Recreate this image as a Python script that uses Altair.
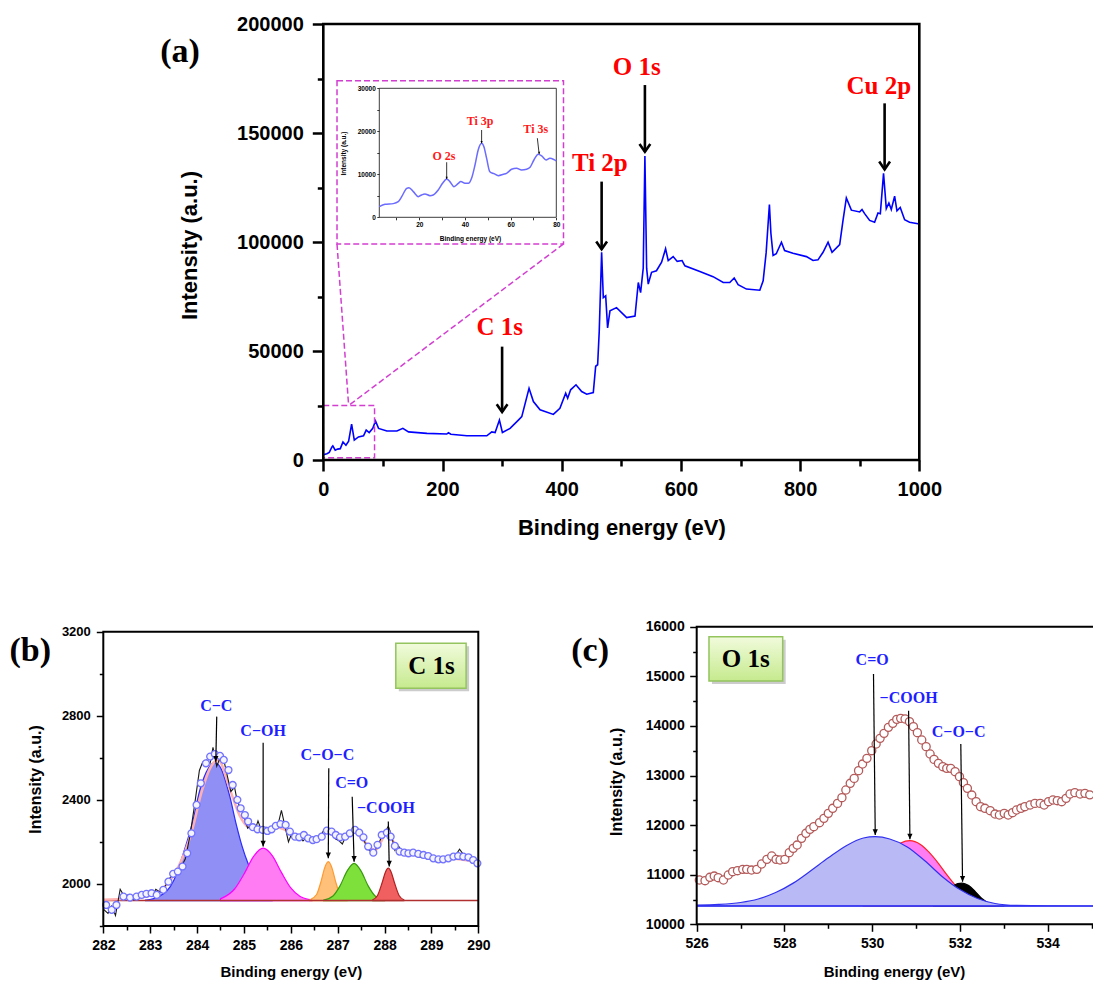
import altair as alt
import pandas as pd

W, H = 1085, 972
SANS = "Liberation Sans"
SERIF = "Liberation Serif"
MAGENTA = "#d23fd0"

# ---------------- (a) survey spectrum ----------------
survey_e = [0, 6, 10, 14.5, 16, 20, 24, 28.5, 33, 38,
            42.5, 47.5, 52, 59, 67.5, 72, 77, 83, 87.6, 92.7,
            106.7, 123.5, 133.5, 143, 173.8, 207, 210, 214, 240.8, 274.3,
            282.7, 288.3, 295.5, 300.5, 313.4, 327.3, 333, 345.2, 352.5, 363.7,
            386, 397, 406.7, 410, 415, 424, 433.5, 442, 453, 457,
            460.3, 463, 467, 469.8, 473.8, 477, 481, 492, 509, 523,
            528.5, 532.4, 536.8, 539.6, 542.5, 545.2, 550.8, 559, 567.6, 574.3,
            578.7, 587, 593.8, 602, 606.7, 631.8, 654, 671, 682, 689.4,
            696, 710, 732.4, 738, 743, 748.5, 751, 754.7, 760, 768.7,
            774, 788, 810.6, 821.7, 830, 838.5, 846.9, 853.6, 866.4, 872,
            877.6, 886, 900, 903.9, 908.3, 916.7, 925, 930.7, 934.6, 940,
            944.6, 949, 953, 958.6, 962.5, 968, 975.4, 983.7, 997.7, 1000]
survey_i = [2400, 2900, 3500, 6000, 6500, 4500, 5000, 5200, 8300, 6800,
            8600, 16500, 9100, 10600, 11100, 13700, 12600, 14500, 17900, 14500,
            13300, 13300, 14500, 12900, 12200, 11900, 12500, 11800, 11100, 11100,
            12900, 12600, 18300, 12600, 14500, 18300, 19900, 32900, 26800, 23000,
            20900, 23700, 30600, 28300, 32200, 34500, 31400, 30200, 30900, 43000,
            43700, 59100, 95300, 74500, 75300, 60600, 68400, 69900, 65300, 66000,
            81400, 76800, 88000, 139500, 88000, 80700, 86100, 86800, 90700, 96900,
            91500, 93300, 91100, 91500, 89100, 86500, 84100, 81400, 81400, 83500,
            80400, 78400, 77900, 82200, 95000, 117200, 104000, 93800, 94600, 99900,
            96100, 94800, 93300, 91500, 91800, 95300, 99900, 95300, 98800, 109900,
            120200, 114600, 113800, 114900, 113000, 109900, 109100, 113300, 113000, 131500,
            115300, 117900, 114900, 121000, 114300, 115800, 110200, 109100, 108400, 108300]

a_labels = ["C 1s", "Ti 2p", "O 1s", "Cu 2p"]
a_label_e = [296, 464, 526, 932]
a_label_i = [61000, 136400, 180400, 171600]
a_arrow_e = [300, 467, 539.6, 941.8]
a_arrow_top = [52000, 127700, 172000, 163600]
a_arrow_tip = [22000, 96650, 141400, 133300]

# zoom boxes (small box around 0-86 eV, big inset box) and connector lines
box_e0 = [0, 23]
box_e1 = [86, 403]
box_i0 = [1000, 99100]
box_i1 = [25000, 174000]
conn_e0 = [23, 403]
conn_i0 = [99100, 99100]
conn_e1 = [42.5, 42.5]
conn_i1 = [25000, 25000]

# ---------------- inset (0-80 eV) ----------------
inset_e = [2.5, 5, 8.6, 10.8, 12.3, 14.5, 15.5, 17.4, 19.6, 21,
           22.5, 24.7, 26.1, 28.3, 30.2, 32, 33.4, 35.2, 37.1, 38.2,
           40, 41.5, 42.9, 44.4, 45.8, 47.3, 48.3, 49.5, 50.9, 52.7,
           54.6, 56.8, 58.2, 60.4, 62.6, 64.8, 67, 68.5, 70.2, 72.1,
           73.6, 75.5, 77.2, 79, 80]
inset_i = [2480, 3020, 3180, 3640, 4800, 6740, 6900, 5970, 4800, 5200,
           5430, 5040, 5200, 6360, 7900, 8900, 8300, 7130, 7900, 8300,
           7900, 7900, 9070, 12170, 15660, 17200, 16430, 13700, 10600, 10150,
           9690, 10000, 10230, 11160, 11400, 11000, 11160, 11630, 13330, 14650,
           14260, 13330, 13720, 13400, 13100]
in_labels = ["O 2s", "Ti 3p", "Ti 3s"]
in_label_e = [30.8, 46.6, 71]
in_label_i = [14300, 22400, 20500]
in_arrow_e0 = [32, 47.3, 71.7]
in_arrow_e1 = [32, 47.3, 72.5]
in_arrow_top = [12800, 20300, 18400]
in_arrow_tip = [8900, 17200, 14700]

# ---------------- (b) C 1s ----------------
b_base = 1921
b_circ_e = [282.06, 282.18, 282.28, 282.43, 282.57, 282.71, 282.82, 282.92, 283.03, 283.14,
            283.28, 283.39, 283.49, 283.59, 283.69, 283.79, 283.88, 283.99, 284.08, 284.19,
            284.28, 284.38, 284.49, 284.57, 284.67, 284.76, 284.86, 284.93, 285.02, 285.09,
            285.19, 285.29, 285.40, 285.50, 285.59, 285.68, 285.78, 285.89, 285.98, 286.09,
            286.18, 286.28, 286.37, 286.47, 286.55, 286.66, 286.77, 286.87, 286.96, 287.05,
            287.16, 287.26, 287.37, 287.46, 287.55, 287.65, 287.76, 287.85, 287.94, 288.05,
            288.13, 288.22, 288.32, 288.42, 288.51, 288.61, 288.72, 288.83, 288.93, 289.04,
            289.15, 289.25, 289.36, 289.47, 289.57, 289.68, 289.79, 289.89, 289.98]
b_circ_i = [1900, 1877, 1900, 1940, 1935, 1940, 1948, 1953, 1956, 1948,
            1972, 2011, 2048, 2059, 2083, 2146, 2241, 2376, 2479, 2574,
            2606, 2618, 2609, 2590, 2542, 2471, 2400, 2360, 2328, 2297,
            2270, 2260, 2257, 2252, 2260, 2276, 2285, 2281, 2249, 2225,
            2222, 2233, 2217, 2209, 2213, 2225, 2254, 2249, 2233, 2222,
            2225, 2241, 2257, 2244, 2222, 2178, 2149, 2186, 2233, 2244,
            2225, 2181, 2154, 2149, 2146, 2149, 2143, 2138, 2133, 2122,
            2117, 2117, 2122, 2130, 2133, 2130, 2127, 2114, 2098]
b_raw_e = [282.00, 282.10, 282.18, 282.26, 282.36, 282.45, 282.55, 282.65, 282.75, 282.85,
           282.95, 283.05, 283.12, 283.22, 283.35, 283.45, 283.55, 283.65, 283.75, 283.85,
           283.95, 284.05, 284.12, 284.20, 284.28, 284.34, 284.42, 284.50, 284.58, 284.66,
           284.72, 284.80, 284.86, 284.94, 285.00, 285.08, 285.15, 285.25, 285.30, 285.38,
           285.47, 285.55, 285.65, 285.73, 285.80, 285.88, 285.95, 286.02, 286.10, 286.18,
           286.26, 286.35, 286.42, 286.50, 286.60, 286.70, 286.78, 286.86, 286.95, 287.03,
           287.10, 287.18, 287.28, 287.36, 287.45, 287.55, 287.63, 287.72, 287.80, 287.88,
           287.96, 288.02, 288.08, 288.15, 288.22, 288.30, 288.40, 288.50, 288.60, 288.70,
           288.80, 288.90, 289.00, 289.10, 289.20, 289.30, 289.40, 289.50, 289.60, 289.70,
           289.80, 289.90, 290.00]
b_raw_i = [1880, 1860, 1895, 1850, 1975, 1940, 1950, 1925, 1955, 1940,
           1965, 1945, 1975, 1960, 2000, 2040, 2060, 2075, 2120, 2230,
           2380, 2540, 2580, 2590, 2575, 2650, 2560, 2605, 2580, 2500,
           2440, 2460, 2390, 2360, 2320, 2265, 2280, 2265, 2300, 2250,
           2270, 2260, 2275, 2285, 2350, 2270, 2200, 2240, 2215, 2230,
           2205, 2225, 2210, 2200, 2215, 2255, 2250, 2240, 2215, 2205,
           2190, 2230, 2245, 2265, 2240, 2215, 2170, 2150, 2160, 2195,
           2235, 2250, 2275, 2230, 2160, 2180, 2145, 2145, 2140, 2130,
           2125, 2135, 2130, 2105, 2130, 2115, 2125, 2130, 2165, 2135,
           2120, 2110, 2095]
b_env_e = [282.0, 282.5, 283.0, 283.3, 283.6, 283.9, 284.1, 284.3, 284.45, 284.7,
           284.9, 285.1, 285.4, 285.7, 285.9, 286.2, 286.5, 286.8, 287.0, 287.35,
           287.6, 287.8, 288.05, 288.3, 288.6, 289.0, 289.5, 290.0]
b_env_i = [1925, 1930, 1945, 1985, 2080, 2260, 2440, 2560, 2590, 2450,
           2330, 2270, 2255, 2270, 2255, 2225, 2215, 2245, 2225, 2245,
           2195, 2160, 2240, 2165, 2145, 2125, 2120, 2105]
cc_e = [282.9, 283.2, 283.5, 283.7, 283.9, 284.06, 284.24, 284.38, 284.52, 284.7, 284.84, 284.96, 285.1, 285.3, 285.6]
cc_i = [1923, 1942, 2015, 2140, 2290, 2447, 2550, 2577, 2545, 2415, 2280, 2180, 2090, 2000, 1935]
coh_e = [284.5, 284.8, 285.0, 285.2, 285.41, 285.6, 285.8, 286.0, 286.2, 286.45]
coh_i = [1929, 1976, 2046, 2129, 2170, 2136, 2055, 1981, 1940, 1924]
coc_e = [286.4, 286.55, 286.65, 286.72, 286.8, 286.88, 286.95, 287.05, 287.2]
coc_i = [1923, 1950, 2016, 2075, 2106, 2075, 2016, 1950, 1923]
co_e = [286.7, 286.9, 287.05, 287.2, 287.35, 287.5, 287.65, 287.8, 288.0]
co_i = [1923, 1943, 1991, 2061, 2098, 2061, 1991, 1943, 1923]
cooh_e = [287.75, 287.85, 287.95, 288.02, 288.08, 288.14, 288.21, 288.31, 288.41]
cooh_i = [1925, 1945, 2007, 2057, 2075, 2057, 2007, 1945, 1925]
b_labels = ["C\u2212C", "C\u2212OH", "C\u2212O\u2212C", "C=O", "\u2212COOH"]
b_label_e = [284.41, 285.41, 286.78, 287.30, 288.03]
b_label_i = [2847, 2730, 2613, 2479, 2359]
b_arrow_e0 = [284.42, 285.41, 286.81, 287.31, 288.08]
b_arrow_e1 = [284.40, 285.41, 286.80, 287.35, 288.10]
b_arrow_top = [2796, 2672, 2550, 2415, 2297]
b_arrow_tip = [2582, 2178, 2122, 2106, 2083]
b_box = [288.24, 289.74, 2931, 3145]
b_box_text = (289.0, 3036, "C 1s")

# ---------------- (c) O 1s ----------------
c_base = 10369
c_circ_e = [526.06, 526.19, 526.30, 526.40, 526.49, 526.61, 526.72, 526.82, 526.93, 527.05,
            527.14, 527.25, 527.37, 527.48, 527.60, 527.71, 527.81, 527.90, 528.01, 528.11,
            528.20, 528.29, 528.39, 528.49, 528.58, 528.67, 528.80, 528.90, 529.00, 529.10,
            529.21, 529.31, 529.40, 529.50, 529.59, 529.69, 529.78, 529.88, 529.99, 530.09,
            530.18, 530.27, 530.37, 530.47, 530.56, 530.65, 530.75, 530.85, 530.94, 531.03,
            531.13, 531.23, 531.32, 531.41, 531.51, 531.61, 531.70, 531.79, 531.89, 531.99,
            532.08, 532.17, 532.27, 532.37, 532.47, 532.57, 532.69, 532.80, 532.90, 533.01,
            533.10, 533.20, 533.29, 533.39, 533.48, 533.60, 533.71, 533.83, 533.92, 534.02,
            534.12, 534.22, 534.32, 534.42, 534.51, 534.62, 534.74, 534.85, 534.96]
c_circ_i = [10893, 10879, 10947, 10973, 10940, 10893, 10994, 11061, 11081, 11108,
            11108, 11094, 11108, 11215, 11309, 11377, 11309, 11296, 11309, 11444,
            11531, 11598, 11733, 11834, 11914, 11968, 12049, 12136, 12237, 12338,
            12438, 12553, 12707, 12842, 12942, 13097, 13231, 13346, 13500, 13635,
            13749, 13850, 13971, 14051, 14132, 14152, 14139, 14085, 13984, 13863,
            13715, 13581, 13433, 13325, 13245, 13178, 13144, 13144, 13077, 12976,
            12855, 12741, 12606, 12472, 12371, 12338, 12291, 12223, 12203, 12237,
            12203, 12250, 12304, 12338, 12371, 12405, 12438, 12438, 12405, 12472,
            12506, 12492, 12472, 12539, 12627, 12654, 12627, 12640, 12610]
oco_e = [526.0, 526.5, 527.0, 527.4, 527.8, 528.2, 528.6, 529.0, 529.4, 529.8, 530.07,
         530.4, 530.8, 531.2, 531.6, 532.0, 532.4, 532.8, 533.3, 534.0, 536.0]
oco_i = [10385, 10400, 10440, 10510, 10640, 10830, 11080, 11340, 11580, 11740, 11766,
         11720, 11560, 11280, 10960, 10700, 10520, 10420, 10380, 10370, 10369]
ocooh_e = [529.8, 530.1, 530.4, 530.65, 530.86, 531.1, 531.3, 531.5, 531.7, 531.9, 532.1, 532.4, 532.8]
ocooh_i = [10900, 11200, 11480, 11640, 11686, 11610, 11450, 11240, 11000, 10780, 10600, 10440, 10380]
ococ_e = [531.4, 531.6, 531.8, 531.95, 532.05, 532.2, 532.35, 532.5, 532.7, 533.0]
ococ_i = [10420, 10560, 10740, 10820, 10830, 10780, 10660, 10520, 10410, 10370]
c_labels = ["C=O", "\u2212COOH", "C\u2212O\u2212C"]
c_label_e = [530.0, 530.83, 531.97]
c_label_i = [15328, 14569, 13883]
c_arrow_e0 = [530.03, 530.83, 532.02]
c_arrow_e1 = [530.07, 530.86, 532.06]
c_arrow_top = [15046, 14306, 13635]
c_arrow_tip = [11800, 11713, 10859]
c_box = [526.28, 527.96, 14905, 15798]
c_box_text = (527.12, 15351, "O 1s")

panel_tags = {"a": (-240.4, 187200), "b": (280.44, 3110), "c": (523.57, 15518)}


# ---------------- helpers ----------------
def sc(domain, rng):
    return alt.Scale(domain=domain, range=rng, nice=False, zero=False)


def ax_bottom(values, line_y, tick, tw, fs=None, pad=None, title=None, tx=None, ty=None, tfs=None, expr=None):
    kw = dict(orient="bottom", offset=line_y - H, values=values, domain=False, grid=False,
              ticks=True, tickSize=tick, tickWidth=tw, tickColor="black",
              labelOverlap=False, labelFlush=False, format="d")
    if fs:
        kw.update(labels=True, labelFont=SANS, labelFontSize=fs, labelFontWeight="bold",
                  labelColor="black", labelPadding=pad)
        if expr:
            kw["labelExpr"] = expr
    else:
        kw["labels"] = False
    if title:
        kw.update(title=title, titleX=tx, titleY=ty, titleFont=SANS, titleFontSize=tfs,
                  titleFontWeight="bold", titleColor="black", titleAlign="center",
                  titleBaseline="middle", titleAngle=0)
    else:
        kw["title"] = None
    return alt.Axis(**kw)


def ax_left(values, line_x, tick, tw, fs=None, pad=None, title=None, tx=None, ty=None, tfs=None, expr=None):
    kw = dict(orient="left", offset=-line_x, values=values, domain=False, grid=False,
              ticks=True, tickSize=tick, tickWidth=tw, tickColor="black",
              labelOverlap=False, format="d")
    if fs:
        kw.update(labels=True, labelFont=SANS, labelFontSize=fs, labelFontWeight="bold",
                  labelColor="black", labelPadding=pad)
        if expr:
            kw["labelExpr"] = expr
    else:
        kw["labels"] = False
    if title:
        kw.update(title=title, titleX=tx, titleY=ty, titleFont=SANS, titleFontSize=tfs,
                  titleFontWeight="bold", titleColor="black", titleAlign="center",
                  titleBaseline="middle", titleAngle=270)
    else:
        kw["title"] = None
    return alt.Axis(**kw)


def X(f, s):
    return alt.X(f, type="quantitative", scale=s, axis=None)


def Y(f, s):
    return alt.Y(f, type="quantitative", scale=s, axis=None)


def line(e, i, xs, ys, **mk):
    df = pd.DataFrame({"e": e, "i": i})
    return [alt.Chart(df).mark_line(**mk).encode(x=X("e", xs), y=Y("i", ys))]


def points(e, i, xs, ys, **mk):
    df = pd.DataFrame({"e": e, "i": i})
    return [alt.Chart(df).mark_point(**mk).encode(x=X("e", xs), y=Y("i", ys))]


def area(e, i, base, xs, ys, fill, stroke):
    df = pd.DataFrame({"e": e, "i": i, "b": [base] * len(e)})
    return [alt.Chart(df).mark_area(fill=fill, stroke=stroke, strokeWidth=1.2, interpolate="monotone",
                                    fillOpacity=1).encode(x=X("e", xs), y=Y("i", ys), y2=alt.Y2("b"))]


def rects(x0, x1, y0, y1, xs, ys, width, color="black", dash=None):
    df = pd.DataFrame({"x0": x0, "x1": x1, "y0": y0, "y1": y1})
    mk = dict(fill="transparent", stroke=color, strokeWidth=width)
    if dash:
        mk["strokeDash"] = dash
    return [alt.Chart(df).mark_rect(**mk).encode(
        x=X("x0", xs), x2=alt.X2("x1"), y=Y("y0", ys), y2=alt.Y2("y1"))]


def texts(e, i, t, xs, ys, size, color, font=SERIF):
    df = pd.DataFrame({"e": e, "i": i, "t": t})
    return [alt.Chart(df).mark_text(font=font, fontSize=size, fontWeight="bold", color=color,
                                    align="center", baseline="middle").encode(
        x=X("e", xs), y=Y("i", ys), text=alt.Text("t:N"))]


def arrows(e0, e1, top, tip, xs, ys, width, head_path, head_size, filled):
    df = pd.DataFrame({"e0": e0, "e1": e1, "top": top, "tip": tip})
    shaft = alt.Chart(df).mark_rule(color="black", strokeWidth=width).encode(
        x=X("e0", xs), x2=alt.X2("e1"), y=Y("top", ys), y2=alt.Y2("tip"))
    if filled:
        hm = dict(shape=head_path, size=head_size, filled=True, color="black", opacity=1)
    else:
        hm = dict(shape=head_path, size=head_size, filled=False, color="black", opacity=1,
                  strokeWidth=width)
    head = alt.Chart(df).mark_point(**hm).encode(x=X("e1", xs), y=Y("tip", ys))
    return [shaft, head]


def label_box(box, txt, xs, ys, size):
    df = pd.DataFrame({"x0": [box[0]], "x1": [box[1]], "y0": [box[2]], "y1": [box[3]]})
    shadow = alt.Chart(df).mark_rect(fill="#9a9a9a", opacity=0.5, xOffset=3, x2Offset=3,
                                     yOffset=3, y2Offset=3).encode(
        x=X("x0", xs), x2=alt.X2("x1"), y=Y("y0", ys), y2=alt.Y2("y1"))
    grad = alt.LinearGradient(gradient="linear", x1=0, x2=0, y1=0, y2=1,
                              stops=[alt.GradientStop(offset=0, color="#f1fbdc"),
                                     alt.GradientStop(offset=1, color="#c6ea8e")])
    box_m = alt.Chart(df).mark_rect(fill=grad, stroke="#93c45e", strokeWidth=1.5).encode(
        x=X("x0", xs), x2=alt.X2("x1"), y=Y("y0", ys), y2=alt.Y2("y1"))
    return [shadow, box_m] + texts([txt[0]], [txt[1]], [txt[2]], xs, ys, size, "black")


def axis_carrier(xdom, xs, ydom, ys, xaxis, yaxis):
    df = pd.DataFrame({"x": [xdom[0]], "y": [ydom[0]]})
    return [alt.Chart(df).mark_point(opacity=0).encode(
        x=alt.X("x:Q", scale=xs, axis=xaxis),
        y=alt.Y("y:Q", scale=ys, axis=yaxis))]


CHEVRON = "M-0.9,-1.3L0,0L0.9,-1.3"
TRI = "M-0.55,-1.2L0,0L0.55,-1.2Z"

units = []

# ---------------- panel (a) ----------------
xa_dom, ya_dom = [0, 1000], [0, 200000]
xa, ya = sc(xa_dom, [315.3, 911.3]), sc(ya_dom, [452, 16])
units += axis_carrier(xa_dom, xa, ya_dom, ya,
                      ax_bottom([0, 200, 400, 600, 800, 1000], 452, 11, 2.5, fs=20, pad=8,
                                title="Binding energy (eV)", tx=613.3, ty=67, tfs=22),
                      ax_left([0, 50000, 100000, 150000, 200000], 315.3, 11, 2.5, fs=20, pad=9,
                              title="Intensity (a.u.)", tx=-133.3, ty=237, tfs=22))
units += axis_carrier(xa_dom, xa, ya_dom, ya,
                      ax_bottom([100, 300, 500, 700, 900], 452, 6, 2.5),
                      ax_left([25000, 75000, 125000, 175000], 315.3, 6, 2.5))
units += line(survey_e, survey_i, xa, ya, color="#0000ff", strokeWidth=1.6)
units += rects(box_e0, box_e1, box_i0, box_i1, xa, ya, 1.5, color=MAGENTA, dash=[6, 3])
df_conn = pd.DataFrame({"x0": conn_e0, "x1": conn_e1, "y0": conn_i0, "y1": conn_i1})
units += [alt.Chart(df_conn).mark_rule(color=MAGENTA, strokeWidth=1.5, strokeDash=[6, 3]).encode(
    x=X("x0", xa), x2=alt.X2("x1"), y=Y("y0", ya), y2=alt.Y2("y1"))]
units += arrows(a_arrow_e, a_arrow_e, a_arrow_top, a_arrow_tip, xa, ya, 2.6, CHEVRON, 144, False)
units += texts(a_label_e, a_label_i, a_labels, xa, ya, 25, "#ff0000")
units += texts([panel_tags["a"][0]], [panel_tags["a"][1]], ["(a)"], xa, ya, 34, "black")
units += rects([0], [1000], [0], [200000], xa, ya, 2.6)

# ---------------- inset ----------------
xi_dom, yi_dom = [2.5, 80], [0, 30000]
xi, yi = sc(xi_dom, [371.3, 548.3]), sc(yi_dom, [209.3, 80.3])
units += axis_carrier(xi_dom, xi, yi_dom, yi,
                      ax_bottom([10, 20, 30, 40, 50, 60, 70, 80], 209.3, 2.5, 0.8, fs=6.5, pad=2,
                                title="Binding energy (eV)", tx=462, ty=21, tfs=6.5,
                                expr="datum.value % 20 === 0 ? datum.label : ''"),
                      ax_left([0, 5000, 10000, 15000, 20000, 25000, 30000], 371.3, 2.5, 0.8,
                              fs=6.5, pad=1.5, title="Intensity (a.u.)", tx=-36, ty=145, tfs=6.5,
                              expr="datum.value % 10000 === 0 ? datum.label : ''"))
units += rects([2.5], [80], [0], [30000], xi, yi, 1, color="#3c3c3c")
units += line(inset_e, inset_i, xi, yi, color="#6b6bff", strokeWidth=1.5, interpolate="monotone")
units += arrows(in_arrow_e0, in_arrow_e1, in_arrow_top, in_arrow_tip, xi, yi, 0.8, TRI, 16, True)
units += texts(in_label_e, in_label_i, in_labels, xi, yi, 12, "#ff1a1a")

# ---------------- panel (b) ----------------
xb_dom, yb_dom = [282, 290], [1800, 3200]
xb, yb = sc(xb_dom, [95.3, 470.3]), sc(yb_dom, [918, 623.7])
units += axis_carrier(xb_dom, xb, yb_dom, yb,
                      ax_bottom(list(range(282, 291)), 918, 7, 1.5, fs=14, pad=5,
                                title="Binding energy (eV)", tx=282.8, ty=45.7, tfs=15),
                      ax_left([2000, 2400, 2800, 3200], 95.3, 7, 1.5, fs=13, pad=6,
                              title="Intensity (a.u.)", tx=-68.3, ty=771, tfs=16))
units += axis_carrier(xb_dom, xb, yb_dom, yb,
                      ax_bottom([282.5 + k for k in range(8)], 918, 4, 1.5),
                      ax_left([1800, 2200, 2600, 3000], 95.3, 4, 1.5))
units += area(cc_e, cc_i, b_base, xb, yb, "#8f8ff5", "#2b2bff")
units += area(coh_e, coh_i, b_base, xb, yb, "#ff7cf2", "#ff00ff")
units += area(coc_e, coc_i, b_base, xb, yb, "#ffc07a", "#ff9a30")
units += area(co_e, co_i, b_base, xb, yb, "#7ee03a", "#3a9a10")
units += area(cooh_e, cooh_i, b_base, xb, yb, "#f06060", "#b02020")
units += line([282, 290], [b_base, b_base], xb, yb, color="#b03030", strokeWidth=1.5)
units += line(b_env_e, b_env_i, xb, yb, color="#ffb0b0", strokeWidth=2.5, interpolate="monotone")
units += line(b_raw_e, b_raw_i, xb, yb, color="#1a1a1a", strokeWidth=1.1)
units += points(b_circ_e, b_circ_i, xb, yb, shape="circle", filled=True, fill="#f4f4ff", stroke="#7272ff",
                strokeWidth=1.3, size=48, opacity=1)
units += arrows(b_arrow_e0, b_arrow_e1, b_arrow_top, b_arrow_tip, xb, yb, 1.2, TRI, 90, True)
units += texts(b_label_e, b_label_i, b_labels, xb, yb, 16, "#1f1fff")
units += label_box(b_box, b_box_text, xb, yb, 25)
units += texts([panel_tags["b"][0]], [panel_tags["b"][1]], ["(b)"], xb, yb, 34, "black")
units += rects([282], [290], [1800], [3200], xb, yb, 2)

# ---------------- panel (c) ----------------
xc_dom, yc_dom = [526, 536], [10000, 16000]
xc, yc = sc(xc_dom, [688.7, 1127.4]), sc(yc_dom, [916.3, 618.7])
units += axis_carrier(xc_dom, xc, yc_dom, yc,
                      ax_bottom([526, 528, 530, 532, 534], 916.3, 7, 1.5, fs=14, pad=5,
                                title="Binding energy (eV)", tx=886, ty=47.4, tfs=15),
                      ax_left([10000, 11000, 12000, 13000, 14000, 15000, 16000], 688.7, 7, 1.5,
                              fs=14, pad=5.5, title="Intensity (a.u.)", tx=-80, ty=773.3, tfs=16))
units += axis_carrier(xc_dom, xc, yc_dom, yc,
                      ax_bottom([527, 529, 531, 533, 535], 916.3, 4, 1.5),
                      ax_left([10500, 11500, 12500, 13500, 14500, 15500], 688.7, 4, 1.5))
units += area(ocooh_e, ocooh_i, c_base, xc, yc, "#ff7cf2", "#ff2020")
units += area(ococ_e, ococ_i, c_base, xc, yc, "#000000", "#000000")
units += area(oco_e, oco_i, c_base, xc, yc, "#b9b9f6", "#3030f0")
units += line([526, 536], [c_base, c_base], xc, yc, color="#3030f0", strokeWidth=1.3)
units += points(c_circ_e, c_circ_i, xc, yc, shape="circle", filled=True, fill="white", stroke="#b45a5a",
                strokeWidth=1.3, size=66, opacity=1)
units += arrows(c_arrow_e0, c_arrow_e1, c_arrow_top, c_arrow_tip, xc, yc, 1.2, TRI, 90, True)
units += texts(c_label_e, c_label_i, c_labels, xc, yc, 16, "#1f1fff")
units += label_box(c_box, c_box_text, xc, yc, 25)
units += texts([panel_tags["c"][0]], [panel_tags["c"][1]], ["(c)"], xc, yc, 34, "black")
units += rects([526], [536], [10000], [16000], xc, yc, 2)

chart = alt.layer(*units).resolve_scale(x="independent", y="independent").properties(
    width=W, height=H, padding=0, autosize=alt.AutoSizeParams(type="none")).configure_view(
    stroke="transparent")

chart.save("out.html", embed_options={"renderer": "svg", "actions": False})
